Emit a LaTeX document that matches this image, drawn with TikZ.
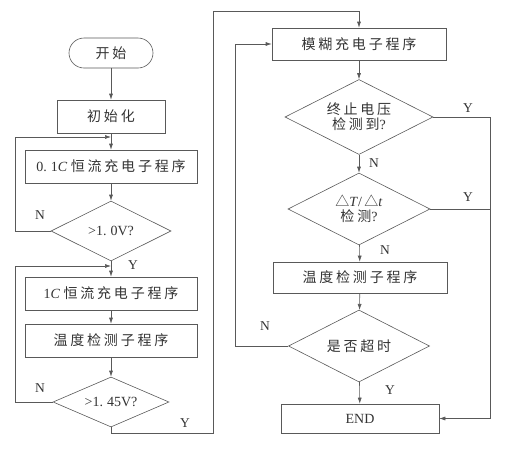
\documentclass[tikz,border=0pt]{standalone}
\usepackage{fontspec}
\setmainfont{Liberation Serif}
\newfontfamily\cjk[LetterSpace=20]{Noto Sans CJK SC}
\usetikzlibrary{arrows.meta,shapes.geometric}
\newcommand{\zh}[1]{{\cjk #1}}
\definecolor{lineclr}{gray}{0.35}
\definecolor{txtclr}{gray}{0.2}
\begin{document}
\begin{tikzpicture}[x=1pt,y=-1pt,
  base/.style={draw=lineclr, line width=0.6pt, text=txtclr, font=\fontsize{14}{17}\selectfont, inner sep=0pt},
  boxn/.style={base, rectangle},
  term/.style={base, rectangle, rounded corners=15pt},
  dia/.style={base, shape=diamond, aspect=2, align=center},
  con/.style={draw=lineclr, line width=0.6pt},
  arr/.style={con, -{Latex[length=6pt,width=4pt]}},
  lab/.style={text=txtclr, font=\fontsize{13.5}{13.5}\selectfont, inner sep=0pt}]
\useasboundingbox (0,0) rectangle (512,456);
% left column
\node[term, minimum width=84pt, minimum height=30pt] (start) at (111,53) {\zh{开始}};
\node[boxn, minimum width=108pt, minimum height=33pt] (init) at (111,116.5) {\zh{初始化}};
\node[boxn, minimum width=172pt, minimum height=33pt] (c01) at (111,166.5) {0.\hspace{4pt}1\textit{C} \zh{恒流充电子程序}};
\node[dia, minimum width=120pt, minimum height=60pt] (d1) at (111,231) {>1.\hspace{4pt}0V?};
\node[boxn, minimum width=172pt, minimum height=33pt] (c1) at (111,293.5) {1\textit{C} \zh{恒流充电子程序}};
\node[boxn, minimum width=172pt, minimum height=33pt] (t1) at (111,340.5) {\zh{温度检测子程序}};
\node[dia, minimum width=116pt, minimum height=50pt] (d2) at (111,402) {>1.\hspace{4pt}45V?};
% right column
\node[boxn, minimum width=174pt, minimum height=32pt] (fuzzy) at (359,44) {\zh{模糊充电子程序}};
\node[dia, minimum width=148pt, minimum height=75pt] (d3) at (359,117) {\zh{终止电压}\\[-2pt]\zh{检测到}?};
\node[dia, minimum width=142pt, minimum height=72pt] (d4) at (359,209) {\zh{△}\textit{T}/\,\zh{△}\textit{t}\\[-2pt]\zh{检测}?};
\node[boxn, minimum width=174pt, minimum height=31pt] (t2) at (360,277.5) {\zh{温度检测子程序}};
\node[dia, minimum width=141pt, minimum height=72pt] (d5) at (359,346) {\zh{是否超时}};
\node[boxn, minimum width=158pt, minimum height=29pt] (end) at (360,418.5) {END};
% helper coordinates
\coordinate (j1) at (111,137);
\coordinate (l1) at (15,137);
\coordinate (j2) at (111,266);
\coordinate (l2) at (15,266);
\coordinate (yb) at (213,433);
\coordinate (yt) at (213,11);
\coordinate (rb) at (490,418.5);
\coordinate (lf) at (235,44);
% left connectors
\draw[arr] (start) -- (init);
\draw[arr] (init) -- (c01);
\draw[arr] (c01) -- (d1);
\draw[arr] (d1.west) -| (l1) -- (j1);
\draw[arr] (d1) -- (c1);
\draw[arr] (d2.west) -| (l2) -- (j2);
\draw[arr] (c1) -- (t1);
\draw[arr] (t1) -- (d2);
\draw[arr] (d2.south) |- (yb) -- (yt) -| (fuzzy.north);
% right connectors
\draw[arr] (fuzzy) -- (d3);
\draw[arr] (d3.east) -| (rb) -- (end.east);
\draw[arr] (d3) -- (d4);
\draw[con] (d4.east) -- (d4.east -| rb);
\draw[arr] (d4) -- (t2);
\draw[arr] (t2) -- (d5);
\draw[arr] (d5.west) -| (lf) -- (fuzzy.west);
\draw[arr] (d5) -- (end);
% labels
\node[lab] (n1) at (40,215) {N};
\node[lab] (y1) at (133,265) {Y};
\node[lab] (n2) at (40,388) {N};
\node[lab] (y2) at (185,423) {Y};
\node[lab] (y3) at (468,108) {Y};
\node[lab] (n3) at (374,163) {N};
\node[lab] (y4) at (468,197) {Y};
\node[lab] (n4) at (385,250) {N};
\node[lab] (n5) at (265,326) {N};
\node[lab] (y5) at (390,390) {Y};
\end{tikzpicture}
\end{document}
